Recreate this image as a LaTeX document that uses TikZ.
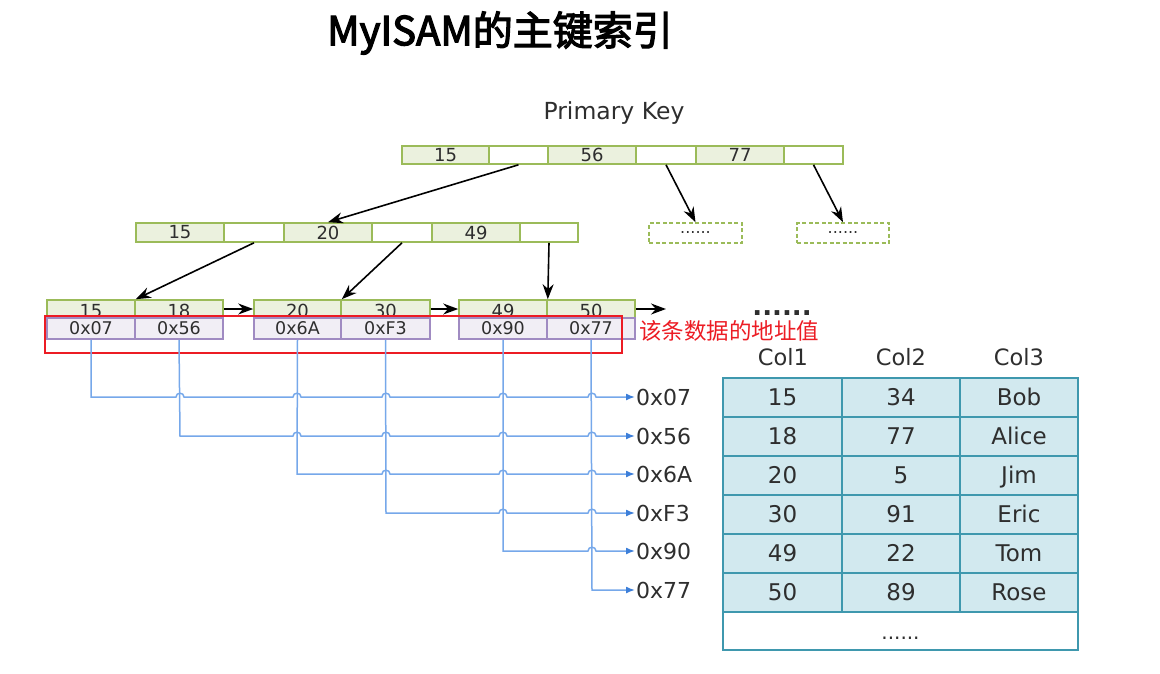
\documentclass[tikz,border=0pt]{standalone}
\usepackage{fontspec}
\setmainfont{DejaVu Sans}
\newfontfamily\cjk{Noto Sans CJK SC}
\newfontfamily\cjkb[FakeBold=3]{Noto Sans CJK SC}
\usetikzlibrary{arrows.meta}
\definecolor{gborder}{HTML}{9BBB59}
\definecolor{gfill}{HTML}{EBF1DE}
\definecolor{pborder}{HTML}{A08BC2}
\definecolor{pfill}{HTML}{F1EEF5}
\definecolor{tborder}{HTML}{3F98AE}
\definecolor{tfill}{HTML}{D2E9EF}
\definecolor{bline}{HTML}{76A8EA}
\definecolor{bhead}{HTML}{3D7FD9}
\definecolor{txt}{HTML}{2E2E2E}
\definecolor{redc}{HTML}{EC1C24}
\tikzset{
  kcell/.style={draw=gborder,line width=1.6pt,fill=gfill,inner sep=0pt,minimum height=18pt,font=\fontsize{18}{18}\selectfont,text=txt},
  ecell/.style={kcell,fill=white},
  acell/.style={draw=pborder,line width=1.6pt,fill=pfill,inner sep=0pt,minimum height=21pt,font=\fontsize{17.5}{17.5}\selectfont,text=txt},
  dbox/.style={draw=gborder,line width=1.6pt,dashed,dash pattern=on 4pt off 2.5pt,inner sep=0pt,minimum height=20pt,font=\fontsize{16}{16}\selectfont,text=txt},
  tcell/.style={draw=tborder,line width=2pt,fill=tfill,inner sep=0pt,minimum height=39pt,text height=16pt,text depth=0pt,font=\fontsize{23}{23}\selectfont,text=txt},
  blk/.style={line width=1.6pt,-{Stealth[length=15pt,width=11pt]}},
  bl/.style={draw=bline,line width=1.5pt,-{Latex[length=9pt,width=7pt,color=bhead]}},
  plabel/.style={anchor=west,inner sep=1pt,font=\fontsize{22}{22}\selectfont,text=txt},
  hlabel/.style={font=\fontsize{22.5}{22.5}\selectfont,text=txt},
}
\begin{document}
\begin{tikzpicture}[x=1pt,y=-1pt]
\useasboundingbox (0,0) rectangle (1160,673);
% title
\node[font=\cjkb\fontsize{40}{40}\selectfont,text=black] (title) at (500,33) {MyISAM的主键索引};
\node[font=\fontsize{23.5}{23.5}\selectfont,text=txt] (pk) at (614,113) {Primary Key};
% top row
\node[kcell,minimum width=87pt] (t1) at (445.5,155) {15};
\node[ecell,minimum width=59pt] (t2) at (518.5,155) {};
\node[kcell,minimum width=88pt] (t3) at (592,155) {56};
\node[ecell,minimum width=60pt] (t4) at (666,155) {};
\node[kcell,minimum width=88pt] (t5) at (740,155) {77};
\node[ecell,minimum width=59pt] (t6) at (813.5,155) {};
% second row
\node[kcell,minimum width=88pt,minimum height=19pt] (m1) at (180,232.5) {15};
\node[ecell,minimum width=60pt,minimum height=19pt] (m2) at (254,232.5) {};
\node[kcell,minimum width=88pt,minimum height=19pt] (m3) at (328,232.5) {20};
\node[ecell,minimum width=60pt,minimum height=19pt] (m4) at (402,232.5) {};
\node[kcell,minimum width=88pt,minimum height=19pt] (m5) at (476,232.5) {49};
\node[ecell,minimum width=58pt,minimum height=19pt] (m6) at (549,232.5) {};
% dashed boxes
\node[dbox,minimum width=93pt] (d1) at (695.5,233) {......};
\node[dbox,minimum width=92pt] (d2) at (843,233) {......};
% leaves keys
\node[kcell,minimum width=88pt,text height=17pt] (l1) at (91,309) {15};
\node[kcell,minimum width=88pt,text height=17pt] (l2) at (179,309) {18};
\node[kcell,minimum width=87pt,text height=17pt] (l3) at (297.5,309) {20};
\node[kcell,minimum width=89pt,text height=17pt] (l4) at (385.5,309) {30};
\node[kcell,minimum width=88pt,text height=17pt] (l5) at (503,309) {49};
\node[kcell,minimum width=88pt,text height=17pt] (l6) at (591,309) {50};
% leaves addresses
\node[acell,minimum width=88pt] (a1) at (91,328.5) {0x07};
\node[acell,minimum width=88pt] (a2) at (179,328.5) {0x56};
\node[acell,minimum width=87pt] (a3) at (297.5,328.5) {0x6A};
\node[acell,minimum width=89pt] (a4) at (385.5,328.5) {0xF3};
\node[acell,minimum width=88pt] (a5) at (503,328.5) {0x90};
\node[acell,minimum width=88pt] (a6) at (591,328.5) {0x77};
\coordinate (lend) at (666,309);
\node[inner sep=0pt,font=\bfseries\fontsize{26}{26}\selectfont,text=txt] (dots) at (782,313) {......};
% tree arrows
\draw[blk] (t2.south) -- (m3.north);
\draw[blk] (t4.south) -- (d1.north);
\draw[blk] (t6.south) -- (d2.north);
\draw[blk] (m2.south) -- (l1.north east);
\draw[blk] (m4.south) -- (l3.north east);
\draw[blk] (m6.south) -- (l5.north east);
\draw[blk] (l2.east) -- (l3.west);
\draw[blk] (l4.east) -- (l5.west);
\draw[blk] (l6.east) -- (lend);
% red highlight
\draw[redc,line width=2.5pt] (45,316) rectangle (622,353);
\node[anchor=west,font=\cjk\fontsize{22.5}{22.5}\selectfont,text=redc,inner sep=0pt] (note) at (639,331) {该条数据的地址值};
% pointer labels
\node[plabel] (p1) at (635,397) {0x07};
\node[plabel] (p2) at (635,436) {0x56};
\node[plabel] (p3) at (635,474) {0x6A};
\node[plabel] (p4) at (635,513) {0xF3};
\node[plabel] (p5) at (635,551) {0x90};
\node[plabel] (p6) at (635,590) {0x77};
% blue pointer lines with hops
\newcommand\hop[2]{-- (#1-4,#2) .. controls (#1-4,#2-5) and (#1+4,#2-5) .. (#1+4,#2)}
\draw[bl] (a1.south) -- (91,397) \hop{180}{397} \hop{297}{397} \hop{386}{397} \hop{503}{397} \hop{592}{397} -- (p1.west);
\draw[bl] (a2.south) -- (180,436) \hop{297}{436} \hop{386}{436} \hop{503}{436} \hop{592}{436} -- (p2.west);
\draw[bl] (a3.south) -- (297,474) \hop{386}{474} \hop{503}{474} \hop{592}{474} -- (p3.west);
\draw[bl] (a4.south) -- (386,513) \hop{503}{513} \hop{592}{513} -- (p4.west);
\draw[bl] (a5.south) -- (503,551) \hop{592}{551} -- (p5.west);
\draw[bl] (a6.south) -- (592,590) -- (p6.west);
% table headers
\node[hlabel] (h1) at (783,357) {Col1};
\node[hlabel] (h2) at (901,357) {Col2};
\node[hlabel] (h3) at (1019,357) {Col3};
% table
\foreach \r/\y/\a/\b/\c in {1/397.5/15/34/Bob,2/436.5/18/77/Alice,3/475.5/20/5/Jim,4/514.5/30/91/Eric,5/553.5/49/22/Tom,6/592.5/50/89/Rose}{
  \node[tcell,minimum width=119pt] (c1r\r) at (782.5,\y) {\a};
  \node[tcell,minimum width=118pt] (c2r\r) at (901,\y) {\b};
  \node[tcell,minimum width=118pt] (c3r\r) at (1019,\y) {\c};
}
\node[tcell,fill=white,minimum width=355pt,minimum height=38pt,font=\fontsize{20}{20}\selectfont] (tlast) at (900.5,631) {......};
\end{tikzpicture}
\end{document}
